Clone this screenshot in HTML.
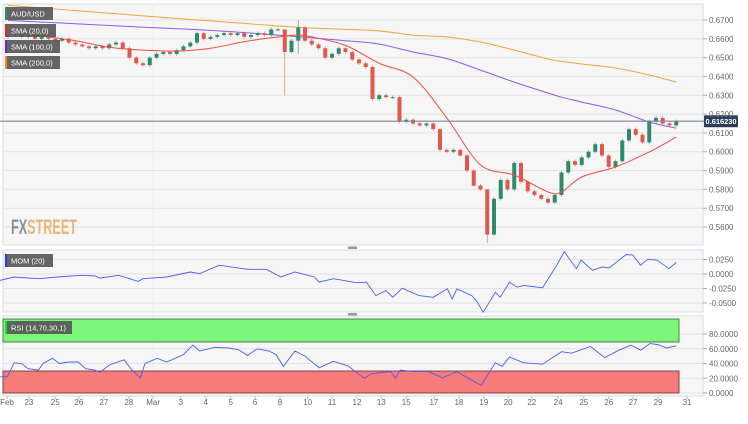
<!DOCTYPE html>
<html><head><meta charset="utf-8"><style>
html,body{margin:0;padding:0;background:#fff;}
svg{display:block;font-family:"Liberation Sans",sans-serif;}
</style></head><body>
<svg id="c" width="748" height="424" viewBox="0 0 748 424">
<rect x="3" y="4" width="700" height="241" fill="#f6f6f6" stroke="#d5dde6"/>
<rect x="3" y="250" width="700" height="62" fill="#f6f6f6" stroke="#d5dde6"/>
<rect x="3" y="316" width="700" height="80" fill="#f6f6f6" stroke="#d5dde6"/>
<g id="grid"></g>
<rect x="3" y="319" width="676" height="23" fill="#7df57a" stroke="#2a6a2a" stroke-width="0.8"/>
<rect x="3" y="371" width="676" height="22" fill="#f77b78" stroke="#6a2a2a" stroke-width="0.8"/>
<g><text x="11" y="234" font-size="21" font-weight="bold" fill="#8a8f96" textLength="66" lengthAdjust="spacingAndGlyphs">FX<tspan fill="#eab57a">STREET</tspan></text></g>
<g id="marks"></g>
<g id="labels" font-size="8" fill="#666"></g>
<rect x="348" y="246.5" width="9" height="2.5" fill="#999"/>
<rect x="348" y="313" width="9" height="2.5" fill="#999"/>
<g><rect x="5" y="7" width="48" height="13" fill="#555" opacity="0.9"/><rect x="5" y="7" width="2" height="13" fill="#2e8b6e"/><text x="11" y="16.5" font-size="7.5" fill="#fff">AUD/USD</text></g>
<g><rect x="5" y="24" width="51" height="13" fill="#555" opacity="0.9"/><rect x="5" y="24" width="2" height="13" fill="#e8241c"/><text x="11" y="33.5" font-size="7.5" fill="#fff">SMA (20,0)</text></g>
<g><rect x="5" y="40" width="55" height="13" fill="#555" opacity="0.9"/><rect x="5" y="40" width="2" height="13" fill="#6a22e0"/><text x="11" y="49.5" font-size="7.5" fill="#fff">SMA (100,0)</text></g>
<g><rect x="5" y="56" width="55" height="13" fill="#555" opacity="0.9"/><rect x="5" y="56" width="2" height="13" fill="#f08a10"/><text x="11" y="65.5" font-size="7.5" fill="#fff">SMA (200,0)</text></g>
<g><rect x="5" y="254" width="48" height="13" fill="#555" opacity="0.9"/><rect x="5" y="254" width="2" height="13" fill="#1a3cff"/><text x="11" y="263.5" font-size="7.5" fill="#fff">MOM (20)</text></g>
<g><rect x="5" y="321" width="67" height="13" fill="#555" opacity="0.9"/><rect x="5" y="321" width="2" height="13" fill="#1ee01a"/><text x="11" y="330.5" font-size="7.5" fill="#fff">RSI (14,70,30,1)</text></g>
</svg>
<script>
const closes=[0.662,0.663,0.661,0.662,0.660,0.661,0.660,0.659,0.660,0.658,0.657,0.656,0.655,0.656,0.655,0.657,0.658,0.655,0.650,0.647,0.646,0.650,0.652,0.653,0.652,0.654,0.656,0.658,0.663,0.660,0.661,0.662,0.663,0.662,0.663,0.661,0.662,0.663,0.662,0.665,0.665,0.653,0.659,0.666,0.659,0.657,0.655,0.650,0.652,0.655,0.653,0.649,0.647,0.645,0.628,0.630,0.629,0.629,0.616,0.617,0.615,0.614,0.615,0.612,0.601,0.600,0.601,0.598,0.590,0.582,0.580,0.556,0.575,0.585,0.580,0.594,0.584,0.579,0.577,0.575,0.573,0.577,0.589,0.595,0.593,0.597,0.600,0.604,0.598,0.592,0.595,0.606,0.612,0.609,0.605,0.616,0.618,0.615,0.614,0.6162];
const firstOpen=0.661;
const wickOverrides={41:[0.665,0.630],43:[0.670,0.652],71:[0.580,0.5515]};
const smaIdx=[0,5,10,15,20,25,30,35,40,43,45,50,55,60,65,70,75,80,82,85,90,95,99];
const sma20=[0.6645,0.6615,0.659,0.6555,0.654,0.6535,0.655,0.6585,0.661,0.662,0.661,0.6565,0.647,0.6397,0.618,0.593,0.5876,0.5786,0.5786,0.5866,0.5919,0.5999,0.6078];
const sma100=[0.6698,0.6689,0.668,0.6671,0.6662,0.6654,0.6645,0.6633,0.662,0.6611,0.6605,0.659,0.6572,0.653,0.6495,0.6434,0.637,0.6312,0.629,0.6264,0.6222,0.6158,0.6125];
const sma200=[0.6778,0.6764,0.675,0.6736,0.6722,0.6708,0.6695,0.6682,0.6668,0.6661,0.6657,0.665,0.6642,0.662,0.661,0.6583,0.654,0.6493,0.648,0.6466,0.6445,0.6408,0.637];
const lastPrice=0.61623;
const momT=[-1.2,0.9,4.5,7.3,10.8,12.9,13.6,16.4,19.3,20,23.5,27,28.4,31.3,34.1,35.5,38.3,40.4,42.5,45.4,46.1,48.2,51.7,53.1,54.5,56,57,58.4,60.9,63,65.1,65.8,66.5,68.7,69.4,70.4,72.2,72.9,74.3,75.4,76.4,79.2,81.3,82.4,84.2,84.9,86.6,88,89.1,90.5,91.6,92.6,93.7,94.8,96.2,97.2,97.9,99];
const momV=[-0.011,-0.0052,-0.0081,-0.0052,-0.0023,-0.0035,-0.007,-0.0023,-0.0128,-0.0081,-0.0052,0.0035,0.0006,0.0151,0.0105,0.0081,0.0081,-0.0052,0.0035,-0.0052,-0.014,-0.0081,-0.0151,-0.014,-0.0372,-0.0285,-0.0401,-0.0244,-0.0372,-0.0401,-0.0256,-0.043,-0.0256,-0.0372,-0.0459,-0.066,-0.0314,-0.0401,-0.014,-0.0227,-0.0198,-0.0238,0.0151,0.0384,0.0093,0.0238,0.0064,0.0122,0.0105,0.0238,0.0337,0.0325,0.0151,0.0256,0.0238,0.0151,0.0093,0.0198];
const rsiT=[-1.2,-0.1,0.9,2,3,4.5,5.2,6.6,7.6,9,10.4,11.5,12.9,13.6,15,17.2,18.2,19.6,20.3,22.1,23.5,26,27.4,28.4,30.6,32.7,34.1,35.5,36.9,38.7,39.7,40.8,42.5,44,46.1,48.2,50.3,52.8,53.8,56.7,57.4,58.1,60.2,62.3,64.4,66.5,68.7,70.1,72.2,73.2,74.3,76.4,79.2,82,83.5,86.3,88.4,90.5,92.3,93.7,95.1,96.2,97.6,99];
const rsiV=[22,22,41,40,33,31,40,47,40,42,42,33,31,28,38,45,33,20.5,40,47,42,52,65,57,62,61,59,51,60,57,52,36,57,50,34,43,37,20,26,29,20,31,29,29,20.6,29,17.4,10.5,41,36,49,41,39,56,54,63,48,58,65,58,67,65.8,61,64];
const priceTicks=[0.67,0.66,0.65,0.64,0.63,0.62,0.61,0.60,0.59,0.58,0.57,0.56];
const momTicks=[0.025,0,-0.025,-0.05];
const rsiTicks=[80,60,40,20,0];
const dateLabels=["Feb","23","25","26","27","28","Mar","3","4","5","6","8","10","11","12","13","15","17","18","19","20","22","24","25","26","27","29","31"];
const dateT=[-0.15,3.1,7.0,10.5,14.2,17.9,21.5,25.6,29.3,33,36.6,40.3,44.4,48,51.7,55.3,59,63.1,66.8,70.5,74.1,77.6,81.5,85.3,89,92.6,96.3,100.6];

const NS="http://www.w3.org/2000/svg";
const X=t=>8+6.75*t;
const Y=p=>20+(0.67-p)*1882;
const YM=v=>274-v*580;
const YR=v=>393-v*0.7375;
function mk(tag,attrs,parent){const e=document.createElementNS(NS,tag);for(const k in attrs)e.setAttribute(k,attrs[k]);parent.appendChild(e);return e;}
const grid=document.getElementById('grid'),marks=document.getElementById('marks'),labels=document.getElementById('labels');

function axisTick(y,txt,name){
  const k=mk('line',{x1:703,x2:707,y1:y,y2:y,stroke:'#aaa'},grid);
  
  
  const t=mk('text',{x:709,y:y+3},labels);t.textContent=txt;
  
  
}
priceTicks.forEach(p=>{
  const l=mk('line',{x1:3,x2:703,y1:Y(p),y2:Y(p),stroke:'#e3e3e3','stroke-width':1},grid);
  
  
  axisTick(Y(p),p.toFixed(4),'price');
});
momTicks.forEach(v=>{
  const l=mk('line',{x1:3,x2:703,y1:YM(v),y2:YM(v),stroke:'#e3e3e3'},grid);
  
  
  axisTick(YM(v),(v<0?'-':'')+Math.abs(v).toFixed(4),'momentum');
});
rsiTicks.forEach(v=>{
  const l=mk('line',{x1:3,x2:703,y1:YR(v),y2:YR(v),stroke:'#e3e3e3'},grid);
  
  
  axisTick(YR(v),v.toFixed(4),'rsi');
});
const vl=mk('line',{x1:X(21.5),x2:X(21.5),y1:4,y2:396,stroke:'#ebebeb'},grid);


dateLabels.forEach((d,i)=>{
  const t=mk('text',{x:X(dateT[i]),y:405,'text-anchor':'middle'},labels);t.textContent=d;
  
  
  const k=mk('line',{x1:X(dateT[i]),x2:X(dateT[i]),y1:396,y2:399,stroke:'#bbb'},grid);
  
  
});

function line(xs,ys,color,name,w,smooth){
  let d='M'+xs[0].toFixed(1)+','+ys[0].toFixed(1);
  for(let i=1;i<xs.length;i++){
    if(smooth){
      const x0=xs[Math.max(0,i-2)],y0=ys[Math.max(0,i-2)],x1=xs[i-1],y1=ys[i-1],x2=xs[i],y2=ys[i],x3=xs[Math.min(xs.length-1,i+1)],y3=ys[Math.min(xs.length-1,i+1)];
      d+=' C'+(x1+(x2-x0)/6).toFixed(1)+','+(y1+(y2-y0)/6).toFixed(1)+' '+(x2-(x3-x1)/6).toFixed(1)+','+(y2-(y3-y1)/6).toFixed(1)+' '+x2.toFixed(1)+','+y2.toFixed(1);
    } else d+=' L'+xs[i].toFixed(1)+','+ys[i].toFixed(1);
  }
  const pl=mk('path',{d:d,fill:'none',stroke:color,'stroke-width':w||1},marks);
  
  
}
line(smaIdx.map(X),sma200.map(Y),'#f5a23c','sma-200-line',1,true);
line(smaIdx.map(X),sma100.map(Y),'#8a5cf0','sma-100-line',1,true);

closes.forEach((c,i)=>{
  const o=i===0?firstOpen:closes[i-1];
  let hi=Math.max(o,c)+0.0009,lo=Math.min(o,c)-0.0009;
  if(wickOverrides[i]){hi=wickOverrides[i][0];lo=wickOverrides[i][1];}
  const up=c>=o,col=up?'#2f8a6c':'#e0584b';
  const g=mk('g',{},marks);
  
  
  mk('line',{x1:X(i),x2:X(i),y1:Y(hi),y2:Y(lo),stroke:col,'stroke-width':0.8,opacity:0.7},g);
  const top=Y(Math.max(o,c)),h=Math.max(1,Math.abs(Y(o)-Y(c)));
  mk('rect',{x:X(i)-2,y:top,width:4,height:h,fill:col},g);
});
line(smaIdx.map(X),sma20.map(Y),'#ef4b40','sma-20-line',1,true);

const pl=mk('line',{x1:0,x2:704,y1:Y(lastPrice),y2:Y(lastPrice),stroke:'#7d8690','stroke-width':1.2},marks);


const pb=mk('rect',{x:704,y:Y(lastPrice)-6,width:34,height:12,fill:'#2b3e5c',rx:1},marks);


const pt=mk('text',{x:705.5,y:Y(lastPrice)+3,'font-size':7.5,fill:'#fff','font-weight':'bold',textLength:31,lengthAdjust:'spacingAndGlyphs'},marks);pt.textContent=lastPrice.toFixed(6);



line(momT.map(X),momV.map(YM),'#4a5cf5','momentum-line',0.9,false);
line(rsiT.map(X),rsiV.map(YR),'#4a5cf5','rsi-line',0.9,false);
</script>
</body></html>
